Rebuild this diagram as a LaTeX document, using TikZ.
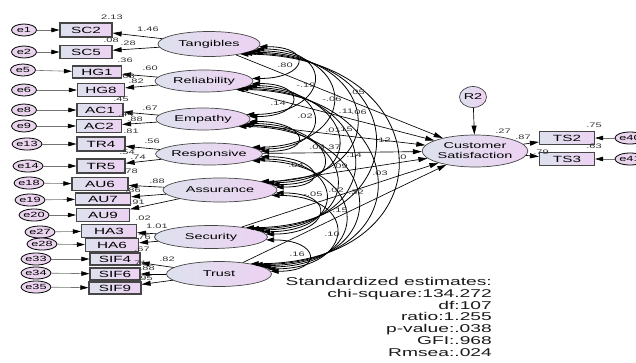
\documentclass[tikz,border=0pt]{standalone}
\usepackage{fontspec}
\setmainfont{Liberation Sans}
\newfontfamily\wf{Liberation Sans}[FakeStretch=1.7]
\usetikzlibrary{arrows.meta,calc,shapes.geometric}
\definecolor{fl}{RGB}{222,225,238}
\definecolor{fr}{RGB}{236,210,242}
\definecolor{ef}{RGB}{234,212,238}
\definecolor{bd}{RGB}{70,70,70}
\begin{document}
\begin{tikzpicture}[x=1pt,y=-1pt,
 latent/.style={ellipse,draw=bd,line width=0.7pt,left color=fl,right color=fr,inner sep=0pt,font=\wf\fontsize{8.5}{9.5}\selectfont},
 obs/.style={rectangle,draw=bd,line width=1.2pt,left color=fl,right color=fr,inner sep=0pt,font=\wf\fontsize{9}{10}\selectfont},
 err/.style={ellipse,draw=black,line width=0.8pt,fill=ef,inner sep=0pt,minimum width=25pt,minimum height=12pt,font=\wf\fontsize{7.5}{8}\selectfont},
 coef/.style={inner sep=0pt,font=\wf\fontsize{6.5}{7}\selectfont,text=black!80},
 arr/.style={-{Triangle[length=9pt,width=5pt]},line width=0.65pt},
 earr/.style={-{Triangle[length=8pt,width=4.5pt,color=black]},draw=black!55,line width=0.6pt},
 cov/.style={{Triangle[length=8pt,width=5pt]}-{Triangle[length=8pt,width=5pt]},line width=0.8pt}]
\useasboundingbox (0,0) rectangle (636,362);
\clip (0,0) rectangle (636,362);
% latent variables
\node[latent,minimum width=102pt,minimum height=25pt] (L1) at (209,44) {Tangibles};
\node[latent,minimum width=98pt,minimum height=22pt] (L2) at (204,81) {Reliability};
\node[latent,minimum width=94pt,minimum height=22pt] (L3) at (203,119) {Empathy};
\node[latent,minimum width=98pt,minimum height=22pt] (L4) at (209,154) {Responsive};
\node[latent,minimum width=114pt,minimum height=24pt] (L5) at (220,190) {Assurance};
\node[latent,minimum width=113pt,minimum height=23pt] (L6) at (211,237) {Security};
\node[latent,minimum width=105pt,minimum height=25pt] (L7) at (219,274) {Trust};
\node[latent,minimum width=105pt,minimum height=32pt,align=center,font=\wf\fontsize{8.5}{10}\selectfont] (CS) at (475,151) {Customer\\Satisfaction};
\node[latent,minimum width=27pt,minimum height=21pt] (R2) at (473,97) {R2};
% observed
\node[obs,minimum width=52pt,minimum height=14pt] (SC2) at (86,30) {SC2};
\node[obs,minimum width=52pt,minimum height=13pt] (SC5) at (86,52) {SC5};
\node[obs,minimum width=49pt,minimum height=12pt] (HG1) at (97,72) {HG1};
\node[obs,minimum width=47pt,minimum height=13pt] (HG8) at (101,90) {HG8};
\node[obs,minimum width=46pt,minimum height=13pt] (AC1) at (100,110) {AC1};
\node[obs,minimum width=45pt,minimum height=13pt] (AC2) at (99,126) {AC2};
\node[obs,minimum width=48pt,minimum height=14pt] (TR4) at (101,144) {TR4};
\node[obs,minimum width=48pt,minimum height=14pt] (TR5) at (101,166) {TR5};
\node[obs,minimum width=56pt,minimum height=13pt] (AU6) at (100,184) {AU6};
\node[obs,minimum width=55pt,minimum height=12pt] (AU7) at (103,199) {AU7};
\node[obs,minimum width=53pt,minimum height=13pt] (AU9) at (103,215) {AU9};
\node[obs,minimum width=55pt,minimum height=13pt] (HA3) at (109,231) {HA3};
\node[obs,minimum width=53pt,minimum height=13pt] (HA6) at (112,245) {HA6};
\node[obs,minimum width=50pt,minimum height=12pt] (SIF4) at (115,259) {SIF4};
\node[obs,minimum width=50pt,minimum height=12pt] (SIF6) at (115,274) {SIF6};
\node[obs,minimum width=52pt,minimum height=12pt] (SIF9) at (115,288) {SIF9};
\node[obs,minimum width=55pt,minimum height=13pt] (TS2) at (567,138) {TS2};
\node[obs,minimum width=55pt,minimum height=13pt] (TS3) at (567,159) {TS3};
% errors
\node[err] (e1) at (24,30) {e1};
\node[err] (e2) at (24,52) {e2};
\node[err] (e5) at (23,70) {e5};
\node[err] (e6) at (24,90) {e6};
\node[err] (e8) at (24,110) {e8};
\node[err] (e9) at (24,126) {e9};
\node[err] (e13) at (27,144) {e13};
\node[err] (e14) at (28,166) {e14};
\node[err] (e18) at (29,183) {e18};
\node[err] (e19) at (30,200) {e19};
\node[err] (e20) at (34,215) {e20};
\node[err] (e27) at (40,232) {e27};
\node[err] (e28) at (42,244) {e28};
\node[err] (e33) at (36,259) {e33};
\node[err] (e34) at (36,273) {e34};
\node[err] (e35) at (36,287) {e35};
\node[err] (e40) at (630,138) {e40};
\node[err] (e41) at (630,159) {e41};
% error arrows
\foreach \e/\b in {e1/SC2,e2/SC5,e5/HG1,e6/HG8,e8/AC1,e9/AC2,e13/TR4,e14/TR5,e18/AU6,e19/AU7,e20/AU9,e27/HA3,e28/HA6,e33/SIF4,e34/SIF6,e35/SIF9,e40/TS2,e41/TS3}
  \draw[earr] (\e) -- (\b);
% loadings
\foreach \l/\b in {L1/SC2,L1/SC5,L2/HG1,L2/HG8,L3/AC1,L3/AC2,L4/TR4,L4/TR5,L5/AU6,L5/AU7,L5/AU9,L6/HA3,L6/HA6,L7/SIF4,L7/SIF6,L7/SIF9,CS/TS2,CS/TS3,R2/CS}
  \draw[arr] (\l) -- (\b);
% structural paths
\foreach \i in {1,...,7}
  \draw[arr] (L\i) -- (CS);
% covariances
\def\ys{{44,81,119,154,190,237,274}}
\foreach \i/\j in {1/2,1/3,1/4,1/5,1/6,1/7,2/3,2/4,2/5,2/6,2/7,3/4,3/5,3/6,3/7,4/5,4/6,4/7,5/6,5/7,6/7}{
  \pgfmathsetmacro\aa{(\j-\i)*3}
  \pgfmathsetmacro\LL{abs(\ys[\j-1]-\ys[\i-1])}
  \pgfmathsetmacro\lo{(24+0.62*\LL)/(0.2936*\LL)}
  \draw[cov] (L\i.-\aa) to[out=0,in=0,looseness=\lo] (L\j.\aa);
}
% coefficients
\node[coef] (n1) at (112,17) {2.13};
\node[coef] (n2) at (148,29) {1.46};
\node[coef] (n3) at (111,40) {.08};
\node[coef] (n4) at (128,43) {.28};
\node[coef] (n5) at (125,60) {.36};
\node[coef] (n6) at (150,68) {.60};
\node[coef] (n7) at (127,76) {.68};
\node[coef] (n8) at (136,81) {.82};
\node[coef] (n9) at (121,99) {.45};
\node[coef] (n10) at (150,108) {.67};
\node[coef] (n11) at (126,114) {.44};
\node[coef] (n12) at (135,119) {.88};
\node[coef] (n13) at (131,131) {.81};
\node[coef] (n14) at (152,141) {.56};
\node[coef] (n15) at (127,152) {.54};
\node[coef] (n16) at (138,157) {.74};
\node[coef] (n17) at (130,171) {.78};
\node[coef] (n18) at (157,181) {.88};
\node[coef] (n19) at (133,190) {.86};
\node[coef] (n20) at (137,202) {.91};
\node[coef] (n21) at (143,218) {.02};
\node[coef] (n22) at (157,226) {1.01};
\node[coef] (n23) at (143,237) {.76};
\node[coef] (n24) at (142,249) {.67};
\node[coef] (n25) at (167,259) {.82};
\node[coef] (n26) at (139,263) {.71};
\node[coef] (n27) at (147,268) {.88};
\node[coef] (n28) at (145,278) {.95};
\node[coef] (c1) at (285,65) {.80};
\node[coef] (c2) at (306,85) {-.19};
\node[coef] (c3) at (278,103) {.14};
\node[coef] (c4) at (332,99) {-.06};
\node[coef] (c5) at (357,92) {.05};
\node[coef] (c6) at (346,111) {.11};
\node[coef] (c7) at (359,112) {.06};
\node[coef] (c8) at (305,116) {.02};
\node[coef] (c9) at (333,130) {.01};
\node[coef] (c10) at (345,129) {.15};
\node[coef] (c11) at (383,140) {.12};
\node[coef] (c12) at (317,147) {.03};
\node[coef] (c13) at (333,147) {.37};
\node[coef] (c14) at (354,155) {.14};
\node[coef] (c15) at (402,157) {.0};
\node[coef] (c16) at (296,165) {.04};
\node[coef] (c17) at (340,166) {.09};
\node[coef] (c18) at (380,173) {.03};
\node[coef] (c20) at (336,190) {.02};
\node[coef] (c21) at (356,192) {.32};
\node[coef] (c22) at (313,194) {-.05};
\node[coef] (c23) at (340,210) {.15};
\node[coef] (c24) at (332,234) {.10};
\node[coef] (c25) at (297,254) {.16};
\node[coef] (c26) at (503,131) {.27};
\node[coef] (c27) at (523,137) {.87};
\node[coef] (c28) at (541,152) {.79};
\node[coef] (c29) at (594,125) {.75};
\node[coef] (c30) at (594,146) {.63};
% fit statistics
\node[anchor=north east,align=right,inner sep=0pt,font=\wf\fontsize{11.3}{11.85}\selectfont,text=black!90] (st) at (492,277)
 {Standardized estimates:\\chi-square:134.272\\df:107\\ratio:1.255\\p-value:.038\\GFI:.968\\Rmsea:.024};
\end{tikzpicture}
\end{document}
